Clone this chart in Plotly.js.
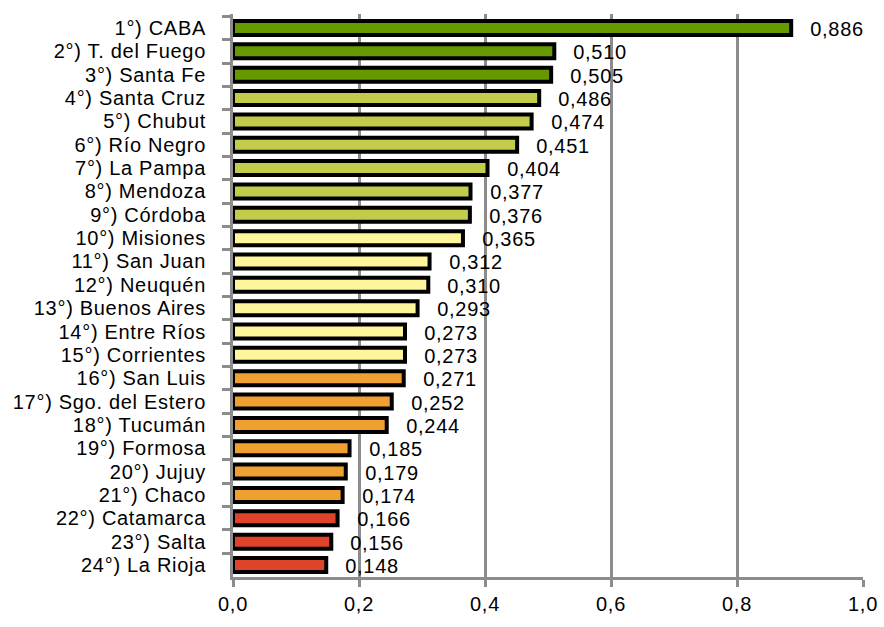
<!DOCTYPE html>
<html>
<head>
<meta charset="utf-8">
<script src="https://cdn.plot.ly/plotly-3.0.1.min.js"></script>
<style>
html,body{margin:0;padding:0;background:#fff;}
#chart{width:884px;height:627px;}
#chart text{letter-spacing:0.7px;}
</style>
</head>
<body>
<div id="chart"></div>
<script>
var provinces = ["1°) CABA","2°) T. del Fuego","3°) Santa Fe","4°) Santa Cruz","5°) Chubut","6°) Río Negro","7°) La Pampa","8°) Mendoza","9°) Córdoba","10°) Misiones","11°) San Juan","12°) Neuquén","13°) Buenos Aires","14°) Entre Ríos","15°) Corrientes","16°) San Luis","17°) Sgo. del Estero","18°) Tucumán","19°) Formosa","20°) Jujuy","21°) Chaco","22°) Catamarca","23°) Salta","24°) La Rioja"];
var values = [0.886,0.510,0.505,0.486,0.474,0.451,0.404,0.377,0.376,0.365,0.312,0.310,0.293,0.273,0.273,0.271,0.252,0.244,0.185,0.179,0.174,0.166,0.156,0.148];
var groups = [0,0,0,1,1,1,1,1,1,2,2,2,2,2,2,3,3,3,3,3,3,4,4,4];
var palette = ["#669900","#C3CB4B","#FFF59B","#F0A030","#DF4329"];
var xTickVals = [0,0.2,0.4,0.6,0.8,1.0];

var colors = groups.map(function(g){return palette[g];});
var fmt = function(v){return v.toFixed(3).replace('.', ',');};
var FONT = 'Liberation Sans, Arial, sans-serif';

var trace = {
  type: 'bar',
  orientation: 'h',
  y: provinces,
  x: values,
  width: 0.6,
  marker: {color: colors, line: {color: '#000', width: 4}},
  hoverinfo: 'none'
};

var annotations = values.map(function(v,i){
  return {x: v, y: provinces[i], xref: 'x', yref: 'y', text: fmt(v), showarrow: false,
    xanchor: 'left', yanchor: 'middle', xshift: 19, yshift: -1,
    font: {family: FONT, size: 20, color: '#000'}};
});

var layout = {
  width: 884, height: 627,
  margin: {l: 233, r: 21, t: 14, b: 50},
  paper_bgcolor: '#fff', plot_bgcolor: '#fff',
  separators: ',.',
  showlegend: false,
  font: {family: FONT, size: 20, color: '#000'},
  xaxis: {
    range: [0, 1.0], tickvals: xTickVals, tickformat: '.1f',
    showgrid: true, gridcolor: '#8C8C8C', gridwidth: 3,
    showline: true, linecolor: '#8C8C8C', linewidth: 3,
    ticks: 'outside', ticklen: 7, tickwidth: 3, tickcolor: '#8C8C8C',
    ticklabelstandoff: 0,
    zeroline: false, fixedrange: true
  },
  yaxis: {
    type: 'category', autorange: 'reversed',
    tickmode: 'linear', tick0: 0, dtick: 1,
    showgrid: false, zeroline: false,
    showline: true, linecolor: '#8C8C8C', linewidth: 3,
    ticks: 'outside', ticklen: 8, tickwidth: 3, tickcolor: '#8C8C8C',
    tickson: 'boundaries',
    ticklabelstandoff: 20,
    fixedrange: true
  },
  annotations: annotations
};

Plotly.newPlot('chart', [trace], layout, {displayModeBar: false, staticPlot: true});
</script>
</body>
</html>
